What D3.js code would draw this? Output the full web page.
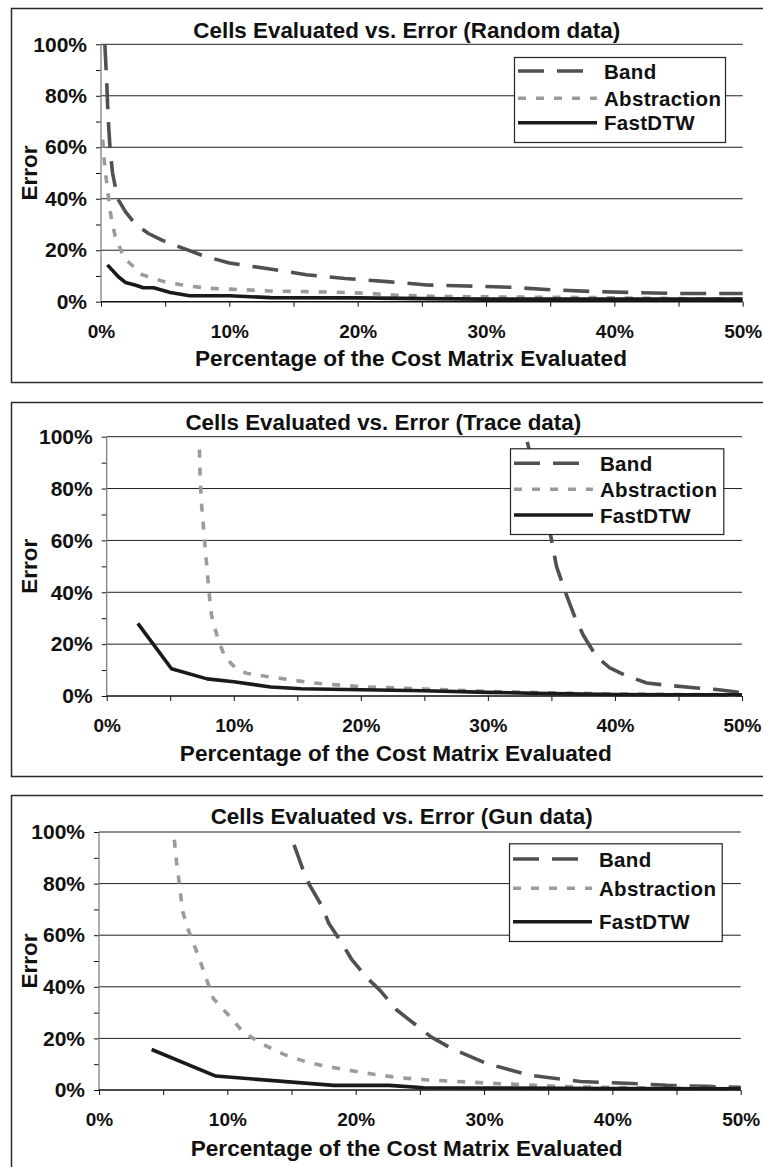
<!DOCTYPE html>
<html>
<head>
<meta charset="utf-8">
<script src="https://cdn.jsdelivr.net/npm/d3@7"></script>
<style>
  html, body { margin: 0; padding: 0; background: #fff; overflow: hidden; }
  svg { display: block; }
</style>
</head>
<body>
<script>
// ---- data: [percent of matrix evaluated, error %] ----
const seriesNames = ['Band', 'Abstraction', 'FastDTW'];
const chartTitles = [
  'Cells Evaluated vs. Error (Random data)',
  'Cells Evaluated vs. Error (Trace data)',
  'Cells Evaluated vs. Error (Gun data)'
];
const xAxisTitle = 'Percentage of the Cost Matrix Evaluated';
const yAxisTitle = 'Error';
const xTickValues = [0, 5, 10, 15, 20, 25, 30, 35, 40, 45, 50];
const yTickValues = [0, 10, 20, 30, 40, 50, 60, 70, 80, 90, 100];
const yGridValues = [20, 40, 60, 80, 100];

const randomBand = [[0.3, 100], [0.45, 85], [0.55, 72], [0.7, 60], [0.9, 50], [1.3, 40], [1.9, 35],
  [2.7, 30], [3.7, 26.5], [4.7, 24], [6, 21.5], [8, 17.8], [10, 15], [13.3, 12.6], [16, 10.5],
  [19, 9], [22.3, 7.8], [25.4, 6.5], [28.5, 6.1], [32, 5.6], [35.2, 4.6], [38.6, 3.9], [42, 3.5],
  [45.1, 3.2], [50, 3.2]];
const randomAbstraction = [[0.13, 63], [0.3, 52], [0.55, 42], [0.75, 34], [1.1, 25.5], [1.8, 17],
  [3.2, 10.5], [4.9, 7.8], [6.8, 6.1], [8.5, 5.2], [10.4, 4.8], [13, 4.2], [16, 3.9], [19, 3.6],
  [21, 3.2], [23, 2.5], [27, 2], [32, 1.8], [36, 1.7], [40, 1.5], [45, 1.2], [50, 1]];
const randomFastDTW = [[0.5, 14.3], [1.35, 9.7], [1.9, 7.5], [2.65, 6.5], [3.3, 5.4], [4.1, 5.4],
  [5.4, 3.6], [6.9, 2.3], [10, 2.3], [13.2, 1.6], [20, 1.5], [25, 1.2], [30, 1], [40, 1], [50, 1]];

const traceBand = [[33.1, 98], [34.0, 80], [34.9, 63], [35.4, 50], [36.1, 40], [36.8, 31],
  [37.5, 23.5], [38.5, 15.5], [39.6, 10.8], [40.8, 8], [42.5, 5], [44, 4.2], [46, 3.3],
  [48, 2.5], [50, 1.3]];
const traceAbstraction = [[7.3, 95], [7.35, 85], [7.45, 75], [7.6, 66], [7.75, 57], [7.9, 49],
  [8.05, 40], [8.25, 31], [8.7, 23], [9.3, 15], [10.2, 10.5], [11, 8.8], [12.6, 7.5], [14.4, 6.3],
  [16.3, 5], [18.1, 4.3], [20, 3.6], [25, 2.7], [30, 1.8], [35, 1.2], [40, 0.8], [45, 0.6], [50, 0.5]];
const traceFastDTW = [[2.45, 28], [5.1, 10.5], [7.9, 6.6], [10, 5.5], [12.9, 3.5], [15.3, 2.8],
  [20, 2.4], [25, 2], [30, 1.4], [35, 0.9], [40, 0.6], [45, 0.5], [50, 0.5]];

const gunBand = [[15.2, 95], [15.9, 85.3], [16.4, 79.5], [17.4, 71], [17.9, 64.6], [19.0, 56.3],
  [19.7, 50.5], [20.9, 43.4], [21.9, 38.6], [23.2, 31], [25.9, 20.5], [27.5, 16], [30.2, 10.3],
  [33.5, 5.8], [37.5, 3.3], [41.6, 2.5], [44.3, 1.8], [47.3, 1.4], [50, 1]];
const gunAbstraction = [[5.87, 97], [6.05, 88], [6.3, 78.5], [6.5, 69.5], [7.0, 61.5], [7.7, 52.5],
  [8.3, 44], [8.9, 35.5], [10.1, 29], [11.2, 22.6], [12.8, 17.6], [14.4, 13.8], [16.2, 10.8],
  [18.0, 8.9], [19.8, 7.4], [21.5, 6], [23.4, 4.8], [25.6, 3.9], [28.7, 3.1], [30.6, 2.6],
  [32.5, 2.2], [34, 1.8], [36.3, 1.3], [40, 1], [45, 0.7], [50, 0.5]];
const gunFastDTW = [[4.1, 15.7], [9.1, 5.4], [18.3, 1.8], [22.6, 1.8], [25.3, 0.9], [30, 0.8],
  [40, 0.6], [50, 0.5]];

// ---- looks & layout ----
const FONT = '"Liberation Sans", Arial, Helvetica, sans-serif';
const styles = {
  Band:        { stroke: '#505050', dash: '26,13', sample: 70 },
  Abstraction: { stroke: '#9b9b9b', dash: '8,10',  sample: 79 },
  FastDTW:     { stroke: '#1a1a1a', dash: null,    sample: 79 }
};
const LINE_W = 3.6;

const panels = [
  { title: chartTitles[0], series: [randomBand, randomAbstraction, randomFastDTW],
    frame: { top: 8, bottom: 382 },
    plot: { l: 101, r: 742.7, t: 44.3, b: 301.7 },
    titleX: 406.7, titleY: 37.5, axisTitleX: 411, axisTitleY: 365.5,
    legend: { x: 514, y: 57, w: 211, h: 85, rows: [71, 98.3, 122.7] } },
  { title: chartTitles[1], series: [traceBand, traceAbstraction, traceFastDTW],
    frame: { top: 402, bottom: 776 },
    plot: { l: 106.7, r: 742, t: 436.7, b: 696 },
    titleX: 383.3, titleY: 430, axisTitleX: 395.8, axisTitleY: 760.5,
    legend: { x: 510, y: 448.3, w: 213.3, h: 85.7, rows: [463.3, 489.3, 515] } },
  { title: chartTitles[2], series: [gunBand, gunAbstraction, gunFastDTW],
    frame: { top: 795, bottom: 1190 },
    plot: { l: 99, r: 740.7, t: 832, b: 1090 },
    titleX: 401.7, titleY: 823.5, axisTitleX: 406.7, axisTitleY: 1155.5,
    legend: { x: 509, y: 843.3, w: 212.7, h: 97.7, rows: [859, 888.3, 921.7] } }
];

const svg = d3.select('body').append('svg')
  .attr('width', 763)
  .attr('height', 1167)
  .attr('viewBox', [0, 0, 763, 1167])
  .style('font-family', FONT)
  .style('font-weight', 'bold');

panels.forEach(p => {
  const { l, r, t, b } = p.plot;
  const g = svg.append('g');

  // chart frame (right side and last bottom run off the page)
  g.append('rect')
    .attr('x', 11.5).attr('y', p.frame.top + 0.5)
    .attr('width', 800).attr('height', p.frame.bottom - p.frame.top)
    .attr('fill', 'none').attr('stroke', '#2a2a2a').attr('stroke-width', 1.5);

  const x = d3.scaleLinear().domain([0, 50]).range([l, r]);
  const y = d3.scaleLinear().domain([0, 100]).range([b, t]);

  // horizontal grid
  g.append('g').selectAll('line')
    .data(yGridValues)
    .join('line')
    .attr('x1', l).attr('x2', r)
    .attr('y1', d => y(d)).attr('y2', d => y(d))
    .attr('stroke', '#1e1e1e').attr('stroke-width', 1);

  // y axis
  g.append('g')
    .attr('transform', `translate(${l},0)`)
    .call(d3.axisLeft(y).tickValues(yTickValues).tickSize(5).tickPadding(9)
      .tickFormat(d => d % 20 === 0 ? d + '%' : ''))
    .call(a => a.select('.domain').remove())
    .attr('font-family', FONT).attr('font-size', 21).attr('color', '#111');
  g.append('line')
    .attr('x1', l).attr('x2', l).attr('y1', t).attr('y2', b)
    .attr('stroke', '#777').attr('stroke-width', 1.2);

  // x axis
  g.append('g')
    .attr('transform', `translate(0,${b})`)
    .call(d3.axisBottom(x).tickValues(xTickValues).tickSize(5).tickPadding(18)
      .tickFormat(d => d % 10 === 0 ? d + '%' : ''))
    .call(a => a.select('.domain').remove())
    .attr('font-family', FONT).attr('font-size', 19).attr('color', '#111');
  g.append('line')
    .attr('x1', l).attr('x2', r).attr('y1', b).attr('y2', b)
    .attr('stroke', '#111').attr('stroke-width', 1.5);

  // series
  const line = d3.line().x(d => x(d[0])).y(d => y(d[1]));
  p.series.forEach((pts, i) => {
    const s = styles[seriesNames[i]];
    g.append('path')
      .datum(pts)
      .attr('d', line)
      .attr('fill', 'none')
      .attr('stroke', s.stroke)
      .attr('stroke-width', LINE_W)
      .attr('stroke-dasharray', s.dash)
      .attr('stroke-linejoin', 'round');
  });

  // titles
  g.append('text')
    .attr('x', p.titleX).attr('y', p.titleY)
    .attr('text-anchor', 'middle').attr('font-size', 22.4).attr('fill', '#111')
    .text(p.title);
  g.append('text')
    .attr('x', p.axisTitleX).attr('y', p.axisTitleY)
    .attr('text-anchor', 'middle').attr('font-size', 22.6).attr('fill', '#111')
    .text(xAxisTitle);
  g.append('text')
    .attr('transform', `translate(37,${(t + b) / 2}) rotate(-90)`)
    .attr('text-anchor', 'middle').attr('font-size', 22.5).attr('fill', '#111')
    .text(yAxisTitle);

  // legend
  const lg = p.legend;
  const leg = g.append('g');
  leg.append('rect')
    .attr('x', lg.x + 0.5).attr('y', lg.y + 0.5).attr('width', lg.w).attr('height', lg.h)
    .attr('fill', '#fff').attr('stroke', '#222').attr('stroke-width', 1.2);
  seriesNames.forEach((name, i) => {
    const s = styles[name];
    const ry = lg.rows[i];
    leg.append('line')
      .attr('x1', lg.x + 4).attr('x2', lg.x + 4 + s.sample)
      .attr('y1', ry).attr('y2', ry)
      .attr('stroke', s.stroke).attr('stroke-width', LINE_W)
      .attr('stroke-dasharray', s.dash);
    leg.append('text')
      .attr('x', lg.x + 90).attr('y', ry + 7.5)
      .attr('font-size', 20.5).attr('letter-spacing', 0.3).attr('fill', '#111')
      .text(name);
  });
});
</script>
</body>
</html>
